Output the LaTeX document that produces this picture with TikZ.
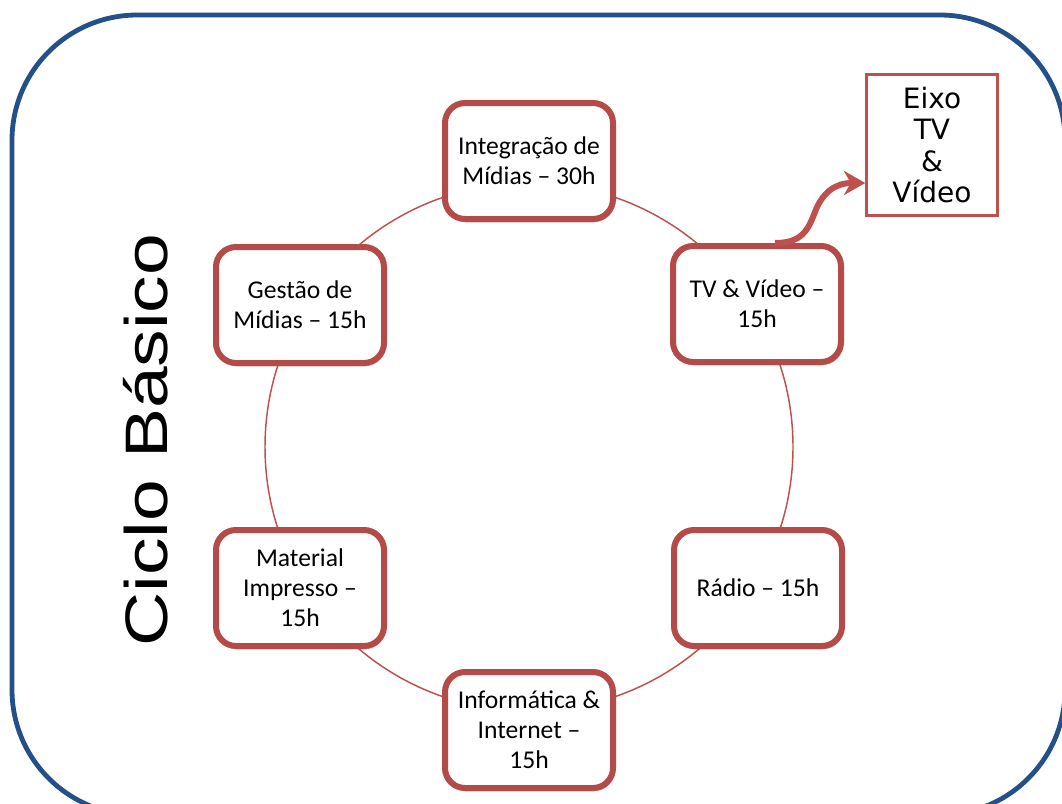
\documentclass[tikz,border=0pt]{standalone}
\usepackage{fontspec}
\setmainfont{Carlito}
\newfontfamily\dejavu{DejaVu Sans}
\newfontfamily\libsans{Liberation Sans}
\usetikzlibrary{shadows,arrows.meta}
\definecolor{frameblue}{RGB}{36,80,138}
\definecolor{boxred}{RGB}{180,75,72}
\definecolor{ringred}{RGB}{192,80,77}
\begin{document}
\begin{tikzpicture}[x=0.75pt,y=-0.75pt,
  stagebox/.style={draw=boxred, line width=4.5pt, rounded corners=15pt, fill=white,
    minimum width=126pt, minimum height=87pt, align=center, inner sep=2pt,
    font=\fontsize{19.2}{22.5}\selectfont,
    drop shadow={opacity=0.22, shadow xshift=1pt, shadow yshift=-2.5pt, fill=black}},
  eixobox/.style={draw=ringred, line width=2pt, fill=white, minimum width=98pt,
    minimum height=106pt, align=center, inner sep=2pt,
    font=\dejavu\fontsize{21}{23.6}\selectfont},
  ring/.style={draw=ringred, line width=1.1pt},
  frame/.style={draw=frameblue, line width=3.6pt, rounded corners=94pt},
  bigarrow/.style={draw=ringred, line width=4.5pt,
    -{Stealth[length=16pt,width=18pt,inset=5pt]}}]
\path[use as bounding box] (0,0) rectangle (1062,803);
\clip (0,0) rectangle (1062,803);
\fill[white] (0,0) rectangle (1062,803);
\path[frame] (12,15) rectangle (1065,815);
\coordinate (c) at (529,447);
\draw[ring] (c) circle[radius=198pt];
\node[stagebox] (int) at (529,161) {Integração de\\Mídias – 30h};
\node[stagebox] (tv) at (757,304) {TV \& Vídeo –\\15h};
\node[stagebox] (rad) at (758,588) {Rádio – 15h};
\node[stagebox] (inf) at (529,730) {Informática \&\\Internet –\\15h};
\node[stagebox] (mat) at (300,588) {Material\\Impresso –\\15h};
\node[stagebox] (ges) at (300,305) {Gestão de\\Mídias – 15h};
\node[eixobox] (eixo) at (932,145) {Eixo\\TV\\\&\\Vídeo};
\node[rotate=90, anchor=base, inner sep=0pt] (ciclo) at (167,440)
  {\libsans\fontsize{45}{50}\selectfont\scalebox{1.25}[1]{Ciclo Básico}};
\coordinate (arrowmid) at (815,212);
\draw[bigarrow] ([xshift=13.5pt]tv.north) .. controls (802,243) and (808,230) .. (arrowmid)
  .. controls (822,193) and (835,183) .. ([yshift=-28.5pt]eixo.west);
\end{tikzpicture}
\end{document}
